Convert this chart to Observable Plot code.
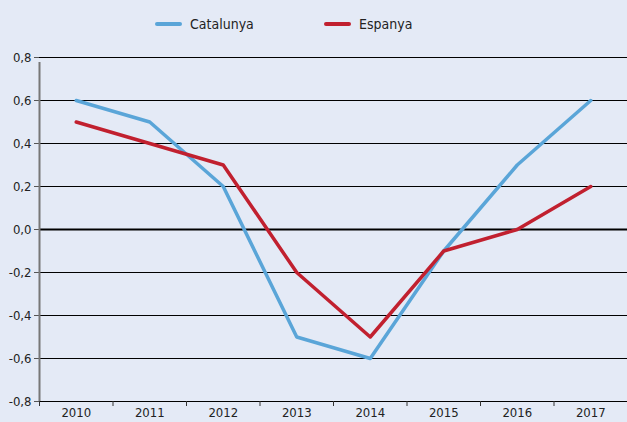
<!DOCTYPE html>
<html>
<head>
<meta charset="utf-8">
<script src="https://cdn.jsdelivr.net/npm/d3@7"></script>
<script src="https://cdn.jsdelivr.net/npm/@observablehq/plot@0.6"></script>
<style>
  html, body { margin: 0; padding: 0; background: #e4eaf6; }
  body { width: 627px; height: 422px; overflow: hidden; font-family: "DejaVu Sans Condensed", "DejaVu Sans", sans-serif; font-stretch: condensed; }
  #legend { position: relative; height: 45px; width: 627px; }
  .item { position: absolute; top: 16px; display: flex; align-items: center; font-size: 14px; color: #222; }
  .swatch { width: 27px; height: 4px; border-radius: 2px; margin-right: 8px; }
  svg text { font-stretch: condensed; }
</style>
</head>
<body>
<div id="legend"></div>
<div id="chart"></div>
<script>
const years = [2010, 2011, 2012, 2013, 2014, 2015, 2016, 2017];
const catalunya = [0.6, 0.5, 0.2, -0.5, -0.6, -0.1, 0.3, 0.6];
const espanya = [0.5, 0.4, 0.3, -0.2, -0.5, -0.1, 0.0, 0.2];
const yTicks = [-0.8, -0.6, -0.4, -0.2, 0, 0.2, 0.4, 0.6, 0.8];
const seriesNames = ["Catalunya", "Espanya"];
const seriesColors = ["#5aa5d8", "#c1202f"];

const data = [];
years.forEach((y, i) => {
  data.push({year: y, value: catalunya[i], serie: seriesNames[0]});
  data.push({year: y, value: espanya[i], serie: seriesNames[1]});
});
const boundaries = [years[0] - 0.5, ...years.map(y => y + 0.5)];

const legend = document.getElementById("legend");
const legendX = [155, 324];
seriesNames.forEach((n, i) => {
  const d = document.createElement("div");
  d.className = "item";
  d.style.left = legendX[i] + "px";
  d.innerHTML = `<span class="swatch" style="background:${seriesColors[i]}"></span><span>${n}</span>`;
  legend.appendChild(d);
});

const fmt = d => d.toFixed(1).replace(".", ",");
const font = '"DejaVu Sans Condensed", "DejaVu Sans", sans-serif';

const chart = Plot.plot({
  width: 627,
  height: 377,
  marginTop: 12,
  marginBottom: 21,
  marginLeft: 39,
  marginRight: 0,
  style: {background: "transparent", fontFamily: font, fontSize: "13px", color: "#222"},
  x: {type: "linear", domain: [years[0] - 0.5, years[years.length - 1] + 0.5], label: null},
  y: {domain: [-0.8, 0.8], label: null},
  color: {domain: seriesNames, range: seriesColors},
  marks: [
    Plot.ruleY(yTicks.filter(d => d !== 0), {stroke: "#000", strokeWidth: 1}),
    Plot.ruleY([0], {stroke: "#000", strokeWidth: 2}),
    Plot.axisY({ticks: yTicks, tickFormat: fmt, tickSize: 5, tickPadding: 3, stroke: "#555", fontSize: 13, label: null}),
    Plot.axisX({ticks: boundaries, tickFormat: () => "", tickSize: 5, stroke: "#333", label: null}),
    Plot.axisX({ticks: years, tickFormat: d => String(d), tickSize: 0, tickPadding: 6, fontSize: 13, label: null}),
    Plot.ruleX([years[0] - 0.5], {y1: -0.8, y2: 0.8, stroke: "#777", strokeWidth: 2, insetBottom: -5}),
    Plot.line(data, {x: "year", y: "value", z: "serie", stroke: "serie", strokeWidth: 3.5})
  ]
});
document.getElementById("chart").appendChild(chart);
</script>
</body>
</html>
